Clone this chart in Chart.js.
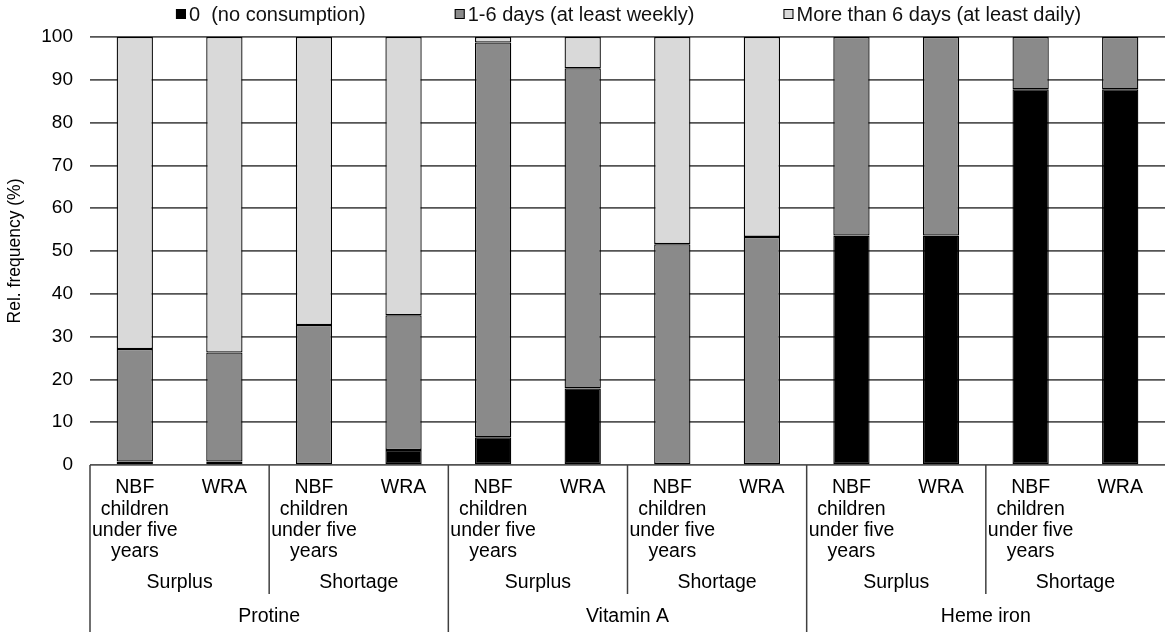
<!DOCTYPE html>
<html><head><meta charset="utf-8">
<script src="https://cdn.jsdelivr.net/npm/chart.js@4.4.0/dist/chart.umd.min.js"></script>
<style>html,body{margin:0;padding:0;background:#fff}canvas{display:block}</style>
</head><body>
<canvas id="c" width="1170" height="632"></canvas>
<script>
const categories = [
  ["NBF","children","under five","years"], ["WRA"],
  ["NBF","children","under five","years"], ["WRA"],
  ["NBF","children","under five","years"], ["WRA"],
  ["NBF","children","under five","years"], ["WRA"],
  ["NBF","children","under five","years"], ["WRA"],
  ["NBF","children","under five","years"], ["WRA"]
];
const subGroups = ["Surplus","Shortage","Surplus","Shortage","Surplus","Shortage"];
const nutrients = ["Protine","Vitamin A","Heme iron"];
const seriesNames = ["0  (no consumption)","1-6 days (at least weekly)","More than 6 days (at least daily)"];
const noConsumption = [0.8, 0.8, 0, 3.5, 6.5, 17.9, 0, 0, 53.6, 53.6, 87.8, 87.8];
const weekly        = [26.3, 25.5, 32.7, 31.5, 92.2, 74.8, 51.6, 53.3, 46.4, 46.4, 12.2, 12.2];
const daily         = [72.9, 73.7, 67.3, 65.0, 1.3, 7.3, 48.4, 46.7, 0, 0, 0, 0];
const seriesColors = ["#000000", "#8a8a8a", "#d9d9d9"];
const yTitle = "Rel. frequency (%)";

const FONT = '"Liberation Sans", Arial, sans-serif';
Chart.defaults.font.family = FONT;
Chart.defaults.color = '#000';

const seriesData = [noConsumption, weekly, daily];
const datasets = seriesData.map((arr, i) => ({
  label: seriesNames[i],
  data: arr.map(v => v === 0 ? null : v),
  backgroundColor: seriesColors[i],
  borderColor: '#000',
  borderWidth: 1.3,
  borderSkipped: false,
  categoryPercentage: 1,
  barPercentage: 0.405
}));

const groupPlugin = {
  id: 'groups',
  afterDraw(chart) {
    const ctx = chart.ctx, xs = chart.scales.x, area = chart.chartArea;
    const slot = xs.getPixelForValue(1) - xs.getPixelForValue(0);
    const edge = i => xs.getPixelForValue(i) - slot / 2;
    ctx.save();
    ctx.strokeStyle = '#404040';
    ctx.lineWidth = 1.5;
    for (let i = 0; i < categories.length; i += 2) {
      const x = edge(i);
      const bottom = (i % 4 === 0) ? chart.height : area.bottom + 129;
      ctx.beginPath();
      ctx.moveTo(x, area.bottom);
      ctx.lineTo(x, bottom);
      ctx.stroke();
    }
    ctx.fillStyle = '#000';
    ctx.font = '19.5px ' + FONT;
    ctx.textAlign = 'center';
    ctx.textBaseline = 'middle';
    subGroups.forEach((g, j) => ctx.fillText(g, (edge(2*j) + edge(2*j+2)) / 2, area.bottom + 118));
    nutrients.forEach((n, k) => ctx.fillText(n, (edge(4*k) + edge(4*k+4)) / 2, area.bottom + 152));

    // legend
    ctx.font = '20px ' + FONT;
    const box = 10, gap = 3, itemGap = 89;
    const widths = seriesNames.map(s => ctx.measureText(s).width);
    const total = widths.reduce((a, w) => a + box + gap + w, 0) + itemGap * (seriesNames.length - 1);
    let x = (area.left + area.right) / 2 + 1 - total / 2;
    const ly = 14;
    ctx.textAlign = 'left';
    seriesNames.forEach((s, i) => {
      ctx.fillStyle = seriesColors[i];
      ctx.fillRect(x, ly - box / 2, box, box);
      ctx.strokeStyle = '#000';
      ctx.lineWidth = 1;
      ctx.strokeRect(x + 0.5, ly - box / 2 + 0.5, box - 1, box - 1);
      ctx.fillStyle = '#111';
      ctx.fillText(s, x + box + gap, ly + 1);
      x += box + gap + widths[i] + itemGap;
    });
    ctx.restore();
  }
};

new Chart(document.getElementById('c'), {
  type: 'bar',
  data: { labels: categories, datasets },
  plugins: [groupPlugin],
  options: {
    responsive: false,
    animation: false,
    devicePixelRatio: 1,
    layout: { padding: { top: 37, right: 5, left: 0, bottom: 0 } },
    plugins: { legend: { display: false }, tooltip: { enabled: false } },
    scales: {
      x: {
        stacked: true,
        grid: { display: false, drawTicks: false },
        border: { display: false },
        ticks: { font: { size: 19.5, lineHeight: 1.1 }, color: '#000', padding: 12, maxRotation: 0, autoSkip: false },
        afterFit: s => { s.height = 167; }
      },
      y: {
        stacked: true,
        min: 0, max: 100,
        grid: { color: '#555', lineWidth: 1.7, drawTicks: false },
        border: { display: false },
        ticks: { stepSize: 10, font: { size: 19 }, color: '#000', padding: 17 },
        title: { display: true, text: yTitle, font: { size: 17.5 }, color: '#000', padding: { top: 5, bottom: 0 } },
        afterFit: s => { s.width = 90; }
      }
    }
  }
});
</script>
</body></html>
